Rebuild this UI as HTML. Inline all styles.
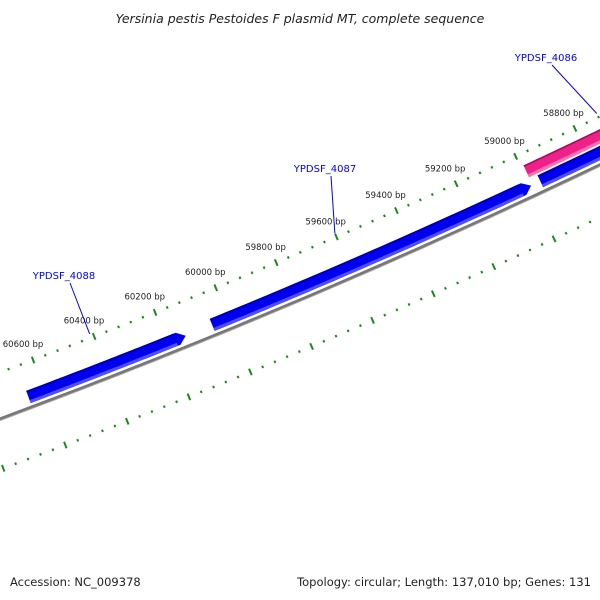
<!DOCTYPE html>
<html><head><meta charset="utf-8"><style>
body{margin:0;background:#fff;width:600px;height:600px;overflow:hidden;font-family:"Liberation Sans",sans-serif}
svg{display:block}
</style></head><body>
<svg id="map" width="600" height="600" viewBox="0 0 600 600">
<text x="300" y="23" text-anchor="middle" font-size="12.5" font-style="italic" font-family="DejaVu Sans, sans-serif" fill="#222">Yersinia pestis Pestoides F plasmid MT, complete sequence</text>
<text x="10" y="586" font-size="11.5" font-family="DejaVu Sans, sans-serif" fill="#222">Accession: NC_009378</text>
<text x="591" y="586" text-anchor="end" font-size="11.5" font-family="DejaVu Sans, sans-serif" fill="#222">Topology: circular; Length: 137,010 bp; Genes: 131</text>
</svg>
<script>
const seqLength = 137010;
const tickStartBp = 58600, tickEndBp = 60800, tickStepBp = 40, majorEveryBp = 200;
const featureNames = ["YPDSF_4088", "YPDSF_4087", "YPDSF_4086", "YPDSF_4086b"];
const featureStarts = [60653, 60053, 58964, 58990];
const featureEnds = [60165, 59020, 58500, 58500];
const featureTracks = [0, 0, 0, 1];
const featureColors = ["#0000f0", "#0000f0", "#0000f0", "#f0208a"];
const geneLabels = ["YPDSF_4088", "YPDSF_4087", "YPDSF_4086"];
const geneLabelBp = [60410, 59600, 58720];
const geneLabelPos = [[64, 279], [325, 172], [546, 61]];

const NS = "http://www.w3.org/2000/svg";
const svg = document.getElementById('map');
const CX = -2499, CY = -6316;
const R_TICK = 7140, R_INNER_TICK = 7049, R_BACK = 7096, R_TRACK = [7107, 7122];
function pt(bp, r) { const rr = 2 * R_TICK - r; const t = bp / seqLength * 2 * Math.PI; return [CX + rr * Math.sin(t), CY - rr * Math.cos(t)]; }
function mk(tag, attrs) { const e = document.createElementNS(NS, tag); for (const k in attrs) e.setAttribute(k, attrs[k]); svg.appendChild(e); return e; }
function arcPts(b0, b1, r) { const a = []; const n = 40; for (let i = 0; i <= n; i++) a.push(pt(b0 + (b1 - b0) * i / n, r)); return a; }
function ps(a) { return a.map(p => p[0].toFixed(1) + ',' + p[1].toFixed(1)).join(' '); }

let bb = mk('polyline', { points: ps(arcPts(57000, 62000, R_BACK - 0.8)), fill: 'none', stroke: '#aaa', 'stroke-width': 1.6 });


let bb2 = mk('polyline', { points: ps(arcPts(57000, 62000, R_BACK + 0.6)), fill: 'none', stroke: '#777', 'stroke-width': 2.6 });



for (let bp = tickStartBp; bp <= tickEndBp; bp += tickStepBp) {
  const major = bp % majorEveryBp === 0;
  [R_TICK, R_INNER_TICK].forEach((r, ri) => {
    const h = major ? 3.5 : 1.2;
    const a = pt(bp, r - h), b = pt(bp, r + h);
    const l = mk('line', { x1: a[0], y1: a[1], x2: b[0], y2: b[1], stroke: '#1a8a1a', 'stroke-width': 2 });
    
    
  });
  if (major) {
    const p = pt(bp, R_TICK + 17);
    const t = mk('text', { x: p[0] - 4, y: p[1] + 3, 'text-anchor': 'middle', 'font-size': 8.5, 'font-family': 'DejaVu Sans, sans-serif', fill: '#222' });
    t.textContent = bp + ' bp';
    
    
  }
}

featureStarts.forEach((s, i) => {
  const e = featureEnds[i], r = R_TRACK[featureTracks[i]], hw = 6.5;
  const tip = e - 25;
  const outer = arcPts(s, e, r + hw), inner = arcPts(e, s, r - hw);
  const tp = pt(tip, r);
  const poly = outer.concat([tp], inner);
  const g = mk('polygon', { points: ps(poly), fill: featureColors[i] });
  
  
  const light = mk('polyline', { points: ps(arcPts(s, e + 8, r - hw + 1.6)), fill: 'none', stroke: i === 3 ? '#ff70b8' : '#5050ff', 'stroke-width': 3 });
  
  
  const dark = mk('polyline', { points: ps(arcPts(s, e + 8, r + hw - 0.8)), fill: 'none', stroke: i === 3 ? '#a0105a' : '#0000a0', 'stroke-width': 1.6 });
  
  
});

geneLabels.forEach((n, i) => {
  const [lx, ly] = geneLabelPos[i];
  const a = pt(geneLabelBp[i], R_TICK + 4);
  const ln = mk('line', { x1: lx + 6, y1: ly + 4, x2: a[0], y2: a[1], stroke: '#0000ff', 'stroke-width': 1 });
  
  
  const t = mk('text', { x: lx, y: ly, 'text-anchor': 'middle', 'font-size': 10, 'font-family': 'DejaVu Sans, sans-serif', fill: '#0000ff' });
  t.textContent = n;
  
  
});
</script>
</body></html>
